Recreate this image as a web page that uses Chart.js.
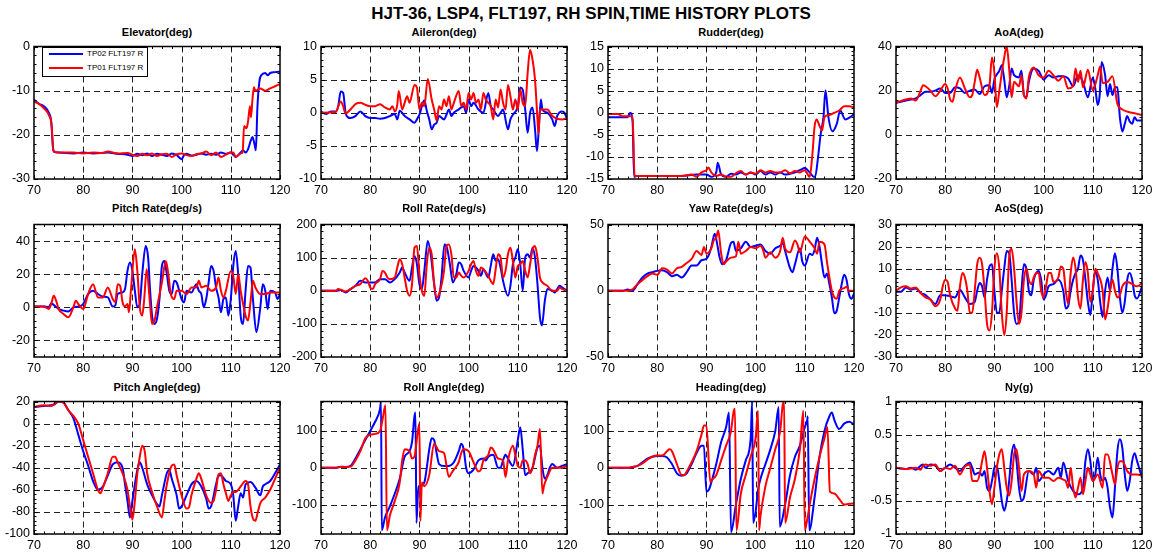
<!DOCTYPE html>
<html>
<head>
<meta charset="utf-8">
<script src="https://cdn.jsdelivr.net/npm/chart.js@4/dist/chart.umd.min.js"></script>
<style>
body { margin: 0; background: #fff; width: 1158px; height: 554px; position: relative; overflow: hidden;
       font-family: "Liberation Sans", Arial, Helvetica, sans-serif; }
canvas { position: absolute; }
.main { position: absolute; left: 291px; width: 600px; top: 3px; text-align: center; font-weight: bold; font-size: 17px; line-height: 22px; color: #000; }
.ttl { position: absolute; width: 246px; text-align: center; font-weight: bold; font-size: 11px; line-height: 14px; color: #000; }
.legend { position: absolute; left: 42px; top: 47px; width: 104px; height: 28px; border: 1px solid #000; background: #fff; }
.legend .ln { position: absolute; left: 6px; width: 34px; height: 2px; }
.legend .tx { position: absolute; left: 44px; font-size: 8px; line-height: 10px; color: #000; }
</style>
</head>
<body>
<div class="main">HJT-36, LSP4, FLT197, RH SPIN,TIME HISTORY PLOTS</div>
<script>
// time axis
const timeTicks = [70, 80, 90, 100, 110, 120];

// Elevator(deg)
const elevatorTicks = [0, -10, -20, -30];
const elevatorTP02 = [[70,-12],[71,-13],[72,-13.5],[73,-15],[73.5,-17],[73.8,-22],[74,-23.8],[75,-24],[78,-24.2],[80,-24],[82,-24.2],[85,-24],[87,-24.3],[89,-24.5],[90,-24.8],[91,-24.3],[92,-24.6],[93,-24.2],[94,-24.8],[95,-24.3],[96,-24.5],[97,-24.8],[98,-24.2],[99,-24.6],[100,-25.5],[100.5,-24.6],[101,-24.3],[102,-24.7],[103,-24.5],[104,-24.2],[105,-24.5],[106,-24.3],[107,-24.5],[108,-24],[109,-24.3],[110,-24],[110.5,-24.5],[111,-25],[112,-24],[112.5,-23.5],[113,-24],[113.5,-23.3],[114,-21.5],[114.4,-20.5],[114.8,-22],[115.1,-23.5],[115.4,-14],[115.8,-8],[116.2,-6.5],[117,-6],[117.5,-6.5],[118,-6],[119,-5.8],[120,-5.7]];
const elevatorTP01 = [[70,-12.5],[71,-13],[72,-14],[73,-15.5],[73.6,-18],[73.9,-23.5],[75,-24],[78,-24],[80,-24.2],[82,-24],[84,-24.1],[85,-23.8],[87,-24.2],[89,-24.1],[90,-24.5],[91,-24.8],[92,-24.3],[93,-24.6],[94,-24.2],[95,-24.8],[96,-24.4],[97,-24.3],[98,-25],[99,-24.4],[100,-24.2],[101,-24.6],[102,-24.8],[103,-24.4],[104,-24.2],[105,-23.8],[106,-24.6],[107,-24],[108,-25],[109,-24.5],[110,-24],[110.5,-24],[111,-25],[112,-24.2],[112.4,-24],[112.7,-18],[113.2,-18.5],[113.5,-17],[113.9,-13.5],[114.1,-16],[114.4,-12],[114.7,-9.2],[115,-10],[116,-9.5],[117,-10],[118,-9.5],[119,-9],[120,-8.5]];

// Aileron(deg)
const aileronTicks = [10, 5, 0, -5, -10];
const aileronTP02 = [[70,0.2],[71,-0.2],[72,0.2],[73,0.2],[73.5,1],[74,3.2],[74.5,3],[75,0],[75.5,-0.7],[76,-0.8],[77,-0.5],[78,0.2],[79,-0.5],[80,-0.8],[81,-0.8],[82,-0.9],[83,-0.8],[84,-0.5],[85,-0.2],[85.5,-1],[86,0.3],[87,-0.5],[88,-1],[89,-1.5],[89.5,-1],[90,-0.3],[91,1.9],[91.5,0.3],[92,-1],[92.5,-2.5],[93,-1.8],[93.5,-1.5],[94,-0.5],[95,-1],[95.5,-0.3],[96,0.5],[96.5,-0.5],[97,0],[98,0.5],[99,1],[99.5,0],[100,2],[100.5,1],[101,1.5],[102,0.5],[103,0],[104,3],[104.5,1],[105,0.5],[106,-0.5],[106.5,0],[107,0.5],[108,-2.5],[108.5,-1],[109,-0.3],[110,1],[110.5,3.8],[111,3.5],[111.5,0.5],[112,-3],[112.5,0],[113,0.8],[113.5,-2.5],[113.9,-5.8],[114.3,-2],[114.7,2],[115,0.5],[116,0],[117,-1],[117.5,-2],[118,-0.5],[119,0.2],[119.5,0],[120,-1]];
const aileronTP01 = [[70,0],[73,0.1],[74,1.7],[74.5,1],[75,-0.1],[76,0.5],[77,1.3],[78,1.5],[79,1.2],[80,1],[81,1],[82,1.3],[83,0.8],[84,0.5],[84.5,1],[85,0.2],[85.5,1.2],[85.8,3.3],[86.5,0.5],[87,1.5],[87.5,2.5],[88,1.5],[89,4.2],[89.5,3.8],[90,0.5],[90.5,1.5],[91,1],[91.7,5.1],[92.5,2],[93,0.5],[93.5,-1.2],[94,1],[94.5,0.5],[95,2],[95.5,1],[96,2.5],[96.5,0.5],[97,1.5],[98,3.3],[98.5,1],[99,1.5],[99.5,0.5],[100,3],[100.5,2],[101,3],[101.5,1.5],[102,2],[102.5,0.5],[103,3],[103.5,2],[104,1.5],[104.5,1],[105,-1],[105.5,2],[106,0.8],[106.5,3.5],[107,1.5],[107.5,0.5],[108,4.2],[108.5,2.5],[109,0.5],[109.5,2],[110,0.5],[110.5,3.5],[111,1.5],[111.5,1],[112,6],[112.5,9.5],[113,8],[113.5,5],[114,-1],[114.2,-3.2],[114.5,0.5],[115,0.5],[116,0.5],[117,-0.5],[118,-0.9],[119,-1],[120,-0.8]];

// Rudder(deg)
const rudderTicks = [15, 10, 5, 0, -5, -10, -15];
const rudderTP02 = [[70,-1],[74,-1],[74.5,0],[75,-2],[75.3,-14.5],[76,-14.3],[80,-14.3],[85,-14.3],[88,-14],[90,-14],[91,-14.5],[92,-13.5],[92.3,-11.3],[93,-14],[94,-14.5],[95,-13.8],[96,-14],[97,-13.5],[98,-14],[99,-13.5],[100,-14],[101,-13.2],[102,-14],[103,-13.5],[104,-14],[105,-13.5],[106,-14],[107,-13.8],[108,-13.5],[109,-13],[110,-12.5],[111,-13.5],[111.8,-14.5],[112.1,-14.5],[112.7,-10],[113.2,-5],[113.8,-1],[114.2,5.1],[114.8,-1],[115.6,-4.2],[116.5,-2.5],[117.2,0.5],[118.2,-1.5],[119.2,-1],[120,-0.3]];
const rudderTP01 = [[70,-0.3],[72,-0.3],[73,-0.8],[75,-0.8],[75.4,-14.3],[80,-14.3],[85,-14.3],[87,-14],[88,-14.5],[89,-13.5],[90,-13],[90.4,-12.4],[91,-13.5],[92,-14.3],[93,-14],[94,-14.5],[95,-14.5],[96,-13.7],[97,-13.2],[98,-14],[99,-13.5],[100,-13.8],[101,-13],[102,-13.5],[103,-13.2],[104,-13.5],[105,-13.5],[106,-13],[107,-13.7],[108,-13.2],[109,-13.5],[110,-13],[111,-14.5],[111.5,-10],[112,-3],[112.4,-1.5],[113,-3],[113.5,-4],[114,-1],[115,-0.5],[116,0],[117,0.5],[118,1.5],[119,1.5],[120,1.2]];

// AoA(deg)
const aoaTicks = [40, 20, 0, -20];
const aoaTP02 = [[70,14.5],[71,15],[72,15.5],[73,16],[74,16.5],[75,18],[76,19.5],[77,19.5],[78,20],[79,21],[80,19],[81,19],[82,21.5],[83,21],[84,19],[85,20],[86,20.5],[87,18.5],[88,22],[89,22.5],[89.5,19],[90,25],[91,29],[91.5,31.5],[92,25],[92.5,17],[93,22],[93.5,30],[94,27],[95,26],[95.5,29],[96,18],[96.5,17],[97,24],[98,30],[99,29],[100,25],[101,27],[102,26],[103,26.5],[104,26.5],[105,25.5],[106,22],[107,27],[108,24],[109,17],[110,26],[110.5,21],[111,13.5],[111.4,18],[111.8,33],[112.5,27],[113,17.5],[113.5,23],[114,18],[114.5,21.5],[115,21.5],[115.5,8],[116,1.5],[116.5,5],[117,8.5],[117.5,6],[118,5],[118.5,8],[119,6.5],[120,6.5]];
const aoaTP01 = [[70,14.5],[72,16],[73,16.5],[74,15.5],[75,20],[75.5,22.5],[76,22],[77,20],[78,17.5],[79,20],[80,23],[80.5,21],[81,16],[81.5,15],[82,20],[83,26],[84,21],[85,17],[85.5,18],[86,24],[86.5,29.5],[87,26],[88,18],[89,22.5],[89.5,35],[90,28],[90.5,12.5],[91,20],[91.5,28],[92,35],[92.5,40],[93,30],[93.5,17],[94,24],[95,22],[95.5,27],[96,18],[96.5,16.5],[97,26],[98,30.5],[99,27],[100,26],[101,29],[102,27],[103,24.5],[104,26.5],[105,21],[106,22],[106.5,30],[107,24],[107.5,29],[108,21.5],[109,29.5],[110,20],[111,27],[111.5,31],[112,23.5],[113,24],[114,26.5],[115,14],[116,11.5],[117,10.5],[118,10],[119,9.5],[120,9]];

// Pitch Rate(deg/s)
const pitchRateTicks = [40, 20, 0, -20];
const pitchRateTP02 = [[70,0.5],[72,0.5],[73,0.2],[73.5,2.5],[74,1.5],[75,-1],[76,-2],[77,-2.5],[78,0],[79,0.5],[80,2],[81,8],[82,10],[83,8],[84,6.5],[85,6],[86,0.5],[86.5,1],[87,8],[88,9],[88.5,11],[89,22],[89.5,27],[90,22],[90.5,10],[91,0],[91.5,2],[92,20],[92.7,37],[93.2,30],[93.6,10],[94,-5],[94.5,-10],[95,-7],[95.5,5],[96,25],[96.5,28],[97,20],[97.5,10],[98,8],[98.5,16],[99,15],[100,5],[100.5,3],[101,10],[102,9],[103,14],[103.5,10],[104,8],[104.5,0],[105,5],[105.5,15],[106,25],[106.5,22],[107,12],[107.5,6],[108,-3],[108.5,5],[109,6],[109.5,-5],[110,5],[110.5,25],[111,34],[111.5,20],[112,-5],[112.5,-10],[113,10],[113.5,25],[114,24],[114.5,5],[115.2,-15],[116,0],[116.5,14],[117,10],[117.5,-1],[118,10],[119,9],[119.5,5],[120,8]];
const pitchRateTP01 = [[70,0.5],[72,0.5],[73,-1],[73.5,2],[74,7],[74.5,4],[75,-1],[76,-4],[77,-6],[78,0],[78.5,4],[79,2],[80,-1],[81,8],[82,14],[83,6],[84,6],[85,12],[86,5],[86.5,3],[87,14],[87.5,13],[88,3],[88.5,0.5],[89,2],[89.3,-3],[89.7,10],[90.5,35],[91,22],[91.5,0],[92,-5],[92.4,5],[92.9,23],[93.5,5],[94,-10],[94.5,-8],[95,0],[96,15],[96.8,28],[97.3,20],[97.8,8],[98.5,5],[99,10],[100,10],[101,8],[102,12],[103,12],[103.5,16],[104,12],[105,13],[106,10],[107,12],[107.5,18],[108,10],[108.5,6],[109,10],[110,22],[110.5,19],[111,8],[111.5,20],[112,10],[112.5,2],[113,-5],[113.5,-8],[114,3],[114.5,16],[115,12],[116,8],[117,8],[118,9],[119,9],[120,9]];

// Roll Rate(deg/s)
const rollRateTicks = [200, 100, 0, -100, -200];
const rollRateTP02 = [[70,0],[73,0],[74,2],[75,-5],[76,5],[77,15],[78,30],[79,25],[80,25],[81,25],[82,35],[83,35],[84,25],[85,35],[86,55],[86.5,70],[87,55],[88,30],[88.5,70],[89,105],[89.5,80],[90,20],[90.5,5],[91,60],[91.7,150],[92.3,110],[93,20],[93.5,-30],[94,-20],[94.5,40],[95.1,140],[95.6,130],[96.2,80],[96.8,25],[97.5,50],[98,85],[98.5,80],[99,60],[100,40],[100.5,60],[101,75],[101.5,70],[102,60],[102.5,45],[103,65],[104,40],[104.5,75],[105,110],[105.5,90],[106,95],[106.5,70],[107,30],[108,-15],[108.5,15],[109,80],[109.5,100],[110,125],[110.5,80],[111,0],[111.5,100],[112,110],[112.5,100],[113,130],[113.5,100],[114,20],[114.5,-80],[114.9,-105],[115.5,-30],[116,5],[117,0],[117.5,-5],[118.5,15],[119,10],[120,0]];
const rollRateTP01 = [[70,0],[73,0],[73.5,5],[74,3],[75,-2],[76,5],[77,15],[78,20],[79,38],[79.5,30],[80,10],[80.5,5],[81,20],[82,35],[82.5,60],[83,55],[83.5,40],[84,35],[85,40],[85.5,70],[86,95],[86.5,80],[87,40],[87.5,0],[88,-15],[88.5,20],[89,130],[89.5,135],[90,50],[90.5,0],[91,-15],[91.5,80],[92,130],[92.5,110],[93,20],[93.5,-20],[94,-10],[95,60],[95.5,135],[96,140],[96.5,110],[97,40],[97.5,40],[98,55],[98.5,45],[99,40],[100,60],[100.5,80],[101,90],[101.5,60],[102,45],[102.5,70],[103,65],[104,45],[104.5,30],[105,20],[105.5,65],[106,110],[106.5,100],[107,40],[107.5,60],[108,110],[108.5,130],[109,90],[109.5,40],[110,75],[110.5,80],[111,90],[111.5,60],[112,40],[112.5,80],[113,125],[113.5,135],[114,100],[114.5,40],[115,25],[116,15],[117,0],[118,0],[118.5,10],[119,5],[120,0]];

// Yaw Rate(deg/s)
const yawRateTicks = [50, 0, -50];
const yawRateTP02 = [[70,0],[73,0],[74,1],[75,0],[76,5],[77,10],[78,13],[79,14],[80,15],[81,15.5],[82,14],[83,11],[84,12],[85,10],[86,14],[87,19],[88,19],[89,23],[90,24],[90.5,27],[91,33],[91.7,43],[92.2,35],[92.7,25],[93.2,20],[94,23],[95,36],[95.5,37],[96,30],[97,32],[98,37],[99,33],[100,34],[101,35],[102,30],[103,28],[104,32],[105,34],[105.5,36],[106,30],[107,17],[107.5,14],[108,20],[109,32],[109.5,22],[110,19],[111,28],[111.5,27],[112,31],[112.5,40],[113,33],[113.5,20],[114,10],[114.5,13],[115,5],[115.5,-5],[116,-17],[116.5,-15],[117,-5],[117.5,5],[118,12],[118.5,8],[119,-3],[119.5,-6],[120,-2]];
const yawRateTP01 = [[70,0],[74,0],[75,1],[76,5],[77,8],[78,11],[79,13],[80,12],[81,17],[82,16],[83,13],[84,17],[85,18],[86,21],[87,24],[88,30],[89,27],[89.5,33],[90,28],[91,32],[91.5,38],[92,40],[92.4,45.5],[93,28],[93.5,20],[94,22],[95,25],[96,26],[96.5,37],[97,28],[98,30],[99,33],[100,32],[101,34],[101.5,31],[102,25],[103,29],[104,25],[105,30],[105.5,40],[106,32],[107,29],[108,38],[108.5,35],[109,29],[110,41],[111,37],[112,32],[112.5,28],[113,37],[114,35],[114.5,22],[115,10],[115.5,0],[116,-5],[116.5,-6],[117,0],[118,2],[118.5,3],[119,0],[120,0]];

// AoS(deg)
const aosTicks = [30, 20, 10, 0, -10, -20, -30];
const aosTP02 = [[70,-0.5],[71,-0.5],[72,1.5],[73,0.5],[74,1],[75,-1],[76,-2],[77,-4],[78,-6],[79,-2],[80,-2],[81,-2.5],[82,-3],[83,0.5],[84,-3],[85,-6],[86,-5],[86.5,0],[87,3.5],[87.5,2],[88,-3],[88.5,5],[89,11],[89.5,12],[90,0],[90.5,-10],[91,-10],[91.5,0],[92,10],[92.5,18],[93,17],[93.5,5],[94,-10],[94.5,-15],[95,-14],[95.5,0],[96,12],[96.5,10],[97,0],[97.5,-2],[98,5],[99,9],[99.5,5],[100,-4],[100.5,-2],[101,2],[102,3],[103,5],[104,0],[104.5,-8],[105,-7],[105.5,0],[106,5],[106.5,8],[107,10],[107.5,16],[108,14],[108.5,5],[109,-5],[109.5,-11],[110,0],[110.5,9],[111,5],[111.5,-5],[112,-12],[112.5,0],[113,6],[113.5,0],[114,10],[114.5,17],[115,10],[115.5,-3],[116,-10],[116.5,-5],[117,5],[117.5,8],[118,5],[118.5,-2],[119,-3.5],[120,2]];
const aosTP01 = [[70,0],[71,1.5],[72,2],[73,1],[74,1.5],[75,-1],[76,-3],[77,-4],[78,-7],[79,-4],[79.5,2],[80,5],[80.5,4],[81,-2],[82,-8],[82.5,-9],[83,2],[83.5,8],[84,6],[84.5,0],[85,-10],[85.5,-10],[86,0],[86.5,12],[87,15],[87.5,12],[88,0],[88.5,-15],[89,-18],[89.5,-10],[90,10],[90.5,17],[91,10],[91.5,-10],[92,-20],[92.5,-10],[93,15],[93.5,19],[94,10],[94.5,-5],[95,-15],[95.5,-10],[96,5],[96.5,10],[97,5],[97.5,3],[98,6],[98.5,8],[99,8],[99.5,0],[100,-3],[100.5,2],[101,8],[101.5,8],[102,4],[103,6],[103.5,11],[104,10],[104.5,0],[105,-6],[105.5,8],[106,15],[106.5,10],[107,-3],[107.5,-8],[108,5],[108.5,13],[109,8],[109.5,-5],[110,0],[110.5,10],[111,8],[112,0],[112.5,-13],[113,-8],[113.5,0],[114,5],[114.5,0],[115,-3],[115.5,-2],[116,2],[117,4],[118,3],[119,2],[120,3.5]];

// Pitch Angle(deg)
const pitchAngleTicks = [20, 0, -20, -40, -60, -80, -100];
const pitchAngleTP02 = [[70,15],[72,16],[74,17],[75,20],[76,19],[77,12],[78,5],[79,-10],[80,-25],[81,-38],[82,-52],[83,-60],[84,-57],[85,-47],[86,-37],[87,-35],[88,-40],[88.5,-55],[89,-70],[89.5,-85],[90,-70],[90.5,-55],[91,-42],[91.5,-35],[92,-40],[93,-55],[94,-65],[95,-73],[95.5,-75],[96,-65],[97,-45],[97.5,-42],[98,-50],[99,-65],[99.5,-77],[100,-75],[101,-65],[102,-55],[103,-52],[104,-57],[105,-68],[105.5,-77],[106,-75],[107,-55],[107.5,-47],[108,-47],[109,-52],[110,-55],[110.5,-65],[111,-88],[111.5,-75],[112,-63],[112.5,-67],[113,-55],[114,-53],[115,-58],[116,-65],[116.5,-57],[117,-55],[118,-52],[119,-45],[120,-37]];
const pitchAngleTP01 = [[70,15],[72,16.5],[73.5,16],[74,17.5],[75,20],[76,19],[77,12],[78,7],[79,0],[80,-15],[81,-30],[82,-45],[83,-60],[83.5,-63],[84,-58],[85,-45],[86,-30],[86.5,-30],[87,-35],[88,-45],[89,-60],[89.5,-75],[90,-87],[90.5,-70],[91,-45],[91.5,-30],[92,-20],[92.5,-25],[93,-45],[94,-62],[95,-75],[96,-85],[96.5,-70],[97,-55],[98,-38],[98.5,-37],[99,-47],[100,-65],[101,-77],[101.5,-76],[102,-65],[103,-50],[103.5,-45],[104,-50],[105,-65],[106,-72],[106.5,-70],[107,-60],[107.5,-46],[108,-45],[108.5,-55],[109,-63],[109.5,-70],[110,-65],[110.5,-62],[111,-62],[112,-57],[113,-52],[113.5,-55],[114,-75],[114.5,-86],[115,-88],[115.5,-80],[116,-72],[117,-67],[118,-60],[119,-50],[120,-40]];

// Roll Angle(deg)
const rollAngleTicks = [100, 0, -100];
const rollAngleTP02 = [[70,0],[73,0],[74,3],[75,2],[76,5],[77,25],[78,50],[79,75],[80,100],[81,125],[82,160],[82.2,180],[82.35,-170],[83,-135],[84,-105],[85,-70],[86,-30],[87,30],[88,45],[88.5,70],[89,140],[89.2,150],[89.4,-150],[89.8,-50],[90,-50],[91,-40],[91.5,0],[92,50],[92.5,80],[93,75],[93.5,40],[94,10],[95,5],[96,5],[97,15],[98,45],[98.5,65],[99,50],[99.5,0],[100,-15],[101,-5],[102,20],[103,25],[103.5,20],[104,30],[105,35],[106,0],[106.5,0],[107,20],[107.5,35],[108,25],[109,5],[110,75],[110.5,110],[111,50],[111.5,-20],[112,-15],[113,0],[114,55],[114.5,60],[115,0],[115.5,-30],[116,-20],[116.5,0],[117,10],[118,0],[119,5],[120,10]];
const rollAngleTP01 = [[70,0],[73,0],[74,2],[75,2],[76,3],[77,20],[78,45],[79,80],[80,90],[81,92],[82,100],[82.5,130],[83.1,170],[83.4,-170],[84,-130],[85,-90],[86,-40],[86.5,20],[87,50],[88,45],[88.5,25],[89,30],[89.5,80],[90,120],[90.2,-145],[90.5,-40],[91,-50],[92,-20],[93,65],[94,45],[95,40],[96,-25],[96.5,-15],[97,-5],[98,15],[98.5,40],[99,50],[100,45],[101,15],[102,-10],[102.5,-5],[103,20],[104,35],[104.5,55],[105,50],[106,25],[107,20],[107.5,-25],[108,20],[109,60],[109.5,35],[110,5],[110.5,0],[111,20],[111.5,20],[112,10],[112.5,-15],[113,0],[113.5,35],[114,60],[114.5,105],[115,-70],[115.3,-50],[116,-25],[117,0],[118,0],[119,0],[120,5]];

// Heading(deg)
const headingTicks = [100, 0, -100];
const headingTP02 = [[70,0],[74,0],[75,2],[76,5],[77,15],[78,25],[79,30],[80,32],[81,32],[82,28],[83,10],[84,-15],[85,-22],[86,-15],[87,10],[88,40],[89,60],[89.5,60],[90,-65],[90.5,-60],[91,-40],[92,10],[93,70],[94,110],[94.6,150],[95,-175],[96,-100],[97,-30],[98,20],[99,80],[99.3,180],[99.5,-150],[100,-120],[100.5,-60],[101,-30],[102,10],[103,50],[104,100],[104.7,165],[104.9,-160],[106,-100],[107,-20],[108,30],[109,60],[110,110],[110.5,130],[110.6,140],[110.9,-170],[112,-80],[113,30],[114,100],[115,140],[115.5,150],[116,130],[117,105],[118,120],[119,125],[120,118]];
const headingTP01 = [[70,0],[74,0],[75,2],[76,5],[77,12],[78,22],[79,30],[80,33],[81,33],[82,45],[82.5,50],[83,45],[84,10],[85,-20],[85.5,-20],[86,-10],[87,15],[88,45],[89,90],[89.5,115],[90,115],[90.8,-40],[91,-35],[92,-20],[93,20],[94,60],[95,100],[95.5,150],[95.8,160],[96.1,-170],[97,-70],[98,-20],[99,30],[100,80],[100.5,155],[100.7,-170],[101,-130],[102,-50],[103,0],[104,50],[105,100],[105.5,170],[105.8,180],[106,-150],[107,-80],[108,-30],[109,50],[109.7,155],[110,-170],[110.5,-140],[111,-100],[112,-30],[113,30],[114,80],[114.6,110],[115.1,-65],[116,-70],[117,-85],[118,-100],[119,-98],[120,-97]];

// Ny(g)
const nyTicks = [1, 0.5, 0, -0.5, -1];
const nyTP02 = [[70,0],[72,-0.02],[73,0],[74,-0.03],[75,0.03],[75.5,0.05],[76,0],[77,0.05],[78,0.03],[79,-0.05],[80,0],[81,0.05],[82,0],[83,-0.05],[84,0.03],[85,0.08],[85.5,0],[86,-0.1],[87,-0.07],[87.5,-0.12],[88,-0.05],[88.5,-0.3],[89,-0.35],[89.5,-0.2],[90,0],[90.5,0.03],[91,-0.2],[91.5,-0.5],[92,-0.65],[92.5,-0.5],[93,-0.2],[93.5,0.2],[94,0.35],[94.5,0.1],[95,-0.3],[95.5,-0.5],[96,-0.45],[97,-0.05],[98,-0.1],[98.5,0],[99,-0.2],[100,-0.1],[101,-0.05],[102,-0.1],[103,0],[103.5,-0.15],[104,0.08],[105,-0.2],[106,-0.35],[107,-0.4],[108,-0.3],[108.5,0.1],[109,0.28],[109.5,0.1],[110,-0.2],[110.5,-0.1],[111,0.15],[111.5,-0.1],[112,-0.2],[112.5,-0.15],[113,-0.3],[113.5,-0.6],[114,-0.75],[114.5,-0.3],[115,0.25],[115.5,0.43],[116,0.3],[116.5,-0.1],[117,-0.35],[117.5,-0.2],[118,0.1],[118.5,0.22],[119,0.1],[120,-0.15]];
const nyTP01 = [[70,0],[72,-0.02],[74,0],[75,-0.03],[75.5,0.03],[76,0.05],[77,0.03],[78,0.05],[79,-0.05],[80,0],[81,-0.02],[82,0.03],[83,-0.1],[84,0.02],[85,0.05],[85.5,-0.2],[86,-0.2],[86.5,-0.2],[87,-0.1],[87.5,0.1],[88,0.25],[88.5,0],[89,-0.35],[89.5,-0.55],[90,-0.3],[90.5,0],[91,0.2],[91.5,0.28],[92,0],[92.5,-0.3],[93,-0.42],[93.5,-0.2],[94,0.2],[94.5,0.28],[95,0],[95.5,-0.35],[96,-0.1],[97,-0.05],[98,-0.1],[98.5,-0.3],[99,-0.05],[100,-0.15],[101,-0.15],[102,-0.2],[103,-0.15],[104,-0.18],[104.5,-0.2],[105,-0.3],[105.5,0],[106,-0.3],[106.5,-0.45],[107,-0.3],[107.5,-0.15],[108,-0.4],[108.5,-0.2],[109,0],[109.5,-0.1],[110,-0.2],[111,-0.1],[112,-0.3],[112.5,0.2],[113,0.2],[114,-0.1],[114.5,-0.25],[115,0],[115.5,0.1],[116,0.1],[117,-0.05],[118,-0.1],[119,-0.1],[120,-0.12]];

// panel list, row by row
const panels = [
  { title: 'Elevator(deg)',     min: -30,  max: 0,   ticks: elevatorTicks,   minor: 2,   blue: elevatorTP02,   red: elevatorTP01 },
  { title: 'Aileron(deg)',      min: -10,  max: 10,  ticks: aileronTicks,    minor: 1,   blue: aileronTP02,    red: aileronTP01 },
  { title: 'Rudder(deg)',       min: -15,  max: 15,  ticks: rudderTicks,     minor: 1,   blue: rudderTP02,     red: rudderTP01 },
  { title: 'AoA(deg)',          min: -20,  max: 40,  ticks: aoaTicks,        minor: 4,   blue: aoaTP02,        red: aoaTP01 },
  { title: 'Pitch Rate(deg/s)', min: -30,  max: 50,  ticks: pitchRateTicks,  minor: 4,   blue: pitchRateTP02,  red: pitchRateTP01 },
  { title: 'Roll Rate(deg/s)',  min: -200, max: 200, ticks: rollRateTicks,   minor: 20,  blue: rollRateTP02,   red: rollRateTP01 },
  { title: 'Yaw Rate(deg/s)',   min: -50,  max: 50,  ticks: yawRateTicks,    minor: 10,  blue: yawRateTP02,    red: yawRateTP01 },
  { title: 'AoS(deg)',          min: -30,  max: 30,  ticks: aosTicks,        minor: 2,   blue: aosTP02,        red: aosTP01 },
  { title: 'Pitch Angle(deg)',  min: -100, max: 20,  ticks: pitchAngleTicks, minor: 4,   blue: pitchAngleTP02, red: pitchAngleTP01 },
  { title: 'Roll Angle(deg)',   min: -180, max: 180, ticks: rollAngleTicks,  minor: 20,  blue: rollAngleTP02,  red: rollAngleTP01 },
  { title: 'Heading(deg)',      min: -180, max: 180, ticks: headingTicks,    minor: 20,  blue: headingTP02,    red: headingTP01 },
  { title: 'Ny(g)',             min: -1,   max: 1,   ticks: nyTicks,         minor: 0.1, blue: nyTP02,         red: nyTP01 }
];

const colX = [34, 321, 608, 896];
const rowY = [44, 222, 399];
const titleY = [25, 201, 380];
const PLOT_W = 246, PLOT_H = 135;
const PAD_L = 34, PAD_T = 9, PAD_R = 16, PAD_B = 20;
const FONT = '"Liberation Sans", Arial, Helvetica, sans-serif';

// dashed grid behind the data, box and small ticks on top
const framePlugin = {
  id: 'frame',
  beforeDatasetsDraw(chart, args, opts) {
    const { ctx, chartArea: a, scales: { x, y } } = chart;
    ctx.save();
    ctx.strokeStyle = '#222';
    ctx.lineWidth = 1;
    ctx.setLineDash([6, 4]);
    ctx.beginPath();
    timeTicks.forEach(v => {
      if (v > x.min && v < x.max) {
        const px = Math.round(x.getPixelForValue(v)) + 0.5;
        ctx.moveTo(px, a.top); ctx.lineTo(px, a.bottom);
      }
    });
    opts.ticks.forEach(v => {
      if (v > y.min && v < y.max) {
        const py = Math.round(y.getPixelForValue(v)) + 0.5;
        ctx.moveTo(a.left, py); ctx.lineTo(a.right, py);
      }
    });
    ctx.stroke();
    ctx.restore();
  },
  afterDatasetsDraw(chart, args, opts) {
    const { ctx, chartArea: a, scales: { x, y } } = chart;
    ctx.save();
    ctx.strokeStyle = '#000';
    ctx.lineWidth = 1;
    ctx.beginPath();
    for (let v = 70; v <= 120.001; v += 2) {
      const px = Math.round(x.getPixelForValue(v)) + 0.5;
      const len = timeTicks.includes(Math.round(v)) ? 4 : 2.5;
      ctx.moveTo(px, a.top); ctx.lineTo(px, a.top + len);
      ctx.moveTo(px, a.bottom); ctx.lineTo(px, a.bottom - len);
    }
    const step = opts.minor;
    const start = Math.ceil(y.min / step - 1e-6);
    const end = Math.floor(y.max / step + 1e-6);
    for (let k = start; k <= end; k++) {
      const v = k * step;
      const py = Math.round(y.getPixelForValue(v)) + 0.5;
      const len = opts.ticks.some(t => Math.abs(t - v) < 1e-6) ? 4 : 2.5;
      ctx.moveTo(a.left, py); ctx.lineTo(a.left + len, py);
      ctx.moveTo(a.right, py); ctx.lineTo(a.right - len, py);
    }
    ctx.stroke();
    ctx.lineWidth = 1.5;
    ctx.strokeRect(a.left, a.top, a.right - a.left, a.bottom - a.top);
    ctx.restore();
  }
};

panels.forEach((p, i) => {
  const col = i % 4, row = Math.floor(i / 4);

  const t = document.createElement('div');
  t.className = 'ttl';
  t.textContent = p.title;
  t.style.left = colX[col] + 'px';
  t.style.top = titleY[row] + 'px';
  document.body.appendChild(t);

  const c = document.createElement('canvas');
  c.width = PAD_L + PLOT_W + PAD_R;
  c.height = PAD_T + PLOT_H + PAD_B;
  c.style.left = (colX[col] - PAD_L) + 'px';
  c.style.top = (rowY[row] - PAD_T) + 'px';
  document.body.appendChild(c);

  const tickFont = { family: FONT, size: 12.5 };
  new Chart(c, {
    type: 'line',
    data: {
      datasets: [
        { label: 'TP01 FLT197 R', data: p.red.map(([x, y]) => ({ x, y })), borderColor: '#ff0000' },
        { label: 'TP02 FLT197 R', data: p.blue.map(([x, y]) => ({ x, y })), borderColor: '#0000ff' }
      ]
    },
    options: {
      responsive: false,
      animation: false,
      events: [],
      layout: { padding: { left: 0, top: PAD_T, right: PAD_R, bottom: 0 } },
      elements: {
        point: { radius: 0 },
        line: { cubicInterpolationMode: 'monotone', borderWidth: 2, fill: false }
      },
      plugins: {
        legend: { display: false },
        tooltip: { enabled: false },
        frame: { ticks: p.ticks, minor: p.minor }
      },
      scales: {
        x: {
          type: 'linear', min: 70, max: 120,
          afterBuildTicks: s => { s.ticks = timeTicks.map(v => ({ value: v })); },
          afterFit: s => { s.height = PAD_B; },
          grid: { display: false, drawTicks: false },
          border: { display: false },
          ticks: { color: '#000', font: tickFont, padding: 4, maxRotation: 0, autoSkip: false }
        },
        y: {
          type: 'linear', min: p.min, max: p.max,
          afterBuildTicks: s => { s.ticks = p.ticks.map(v => ({ value: v })); },
          afterFit: s => { s.width = PAD_L; },
          grid: { display: false, drawTicks: false },
          border: { display: false },
          ticks: { color: '#000', font: tickFont, padding: 4, autoSkip: false, callback: v => String(v) }
        }
      }
    },
    plugins: [framePlugin]
  });
});

// legend in the first panel
const lg = document.createElement('div');
lg.className = 'legend';
lg.innerHTML =
  '<div class="ln" style="top:5px;background:#0000ff"></div><div class="tx" style="top:1px">TP02 FLT197 R</div>' +
  '<div class="ln" style="top:19px;background:#ff0000"></div><div class="tx" style="top:15px">TP01 FLT197 R</div>';
document.body.appendChild(lg);
</script>
</body>
</html>
